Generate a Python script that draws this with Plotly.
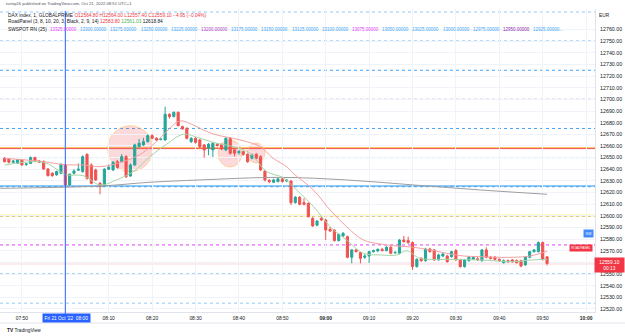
import plotly.graph_objects as go
import pandas as pd

# ---------------- data ----------------
bar_times = pd.date_range("2022-10-21 07:46", periods=126, freq="1min")

opens = [12649.4, 12648.8, 12646.0, 12645.1, 12648.0, 12644.2, 12645.0, 12650.0, 12647.1, 12646.8,
         12640.2, 12636.5, 12635.1, 12636.5, 12643.7, 12626.5, 12636.5, 12639.2, 12638.0, 12652.8,
         12643.7, 12639.4, 12627.9, 12625.6, 12640.0, 12639.4, 12646.5, 12646.5, 12650.8, 12634.2,
         12643.7, 12659.4, 12660.9, 12663.7, 12668.9, 12666.6, 12665.5, 12665.1, 12687.2, 12685.2,
         12688.9, 12676.6, 12675.2, 12663.7, 12666.6, 12665.1, 12660.9, 12658.0, 12656.6, 12661.4,
         12661.4, 12656.6, 12666.6, 12656.6, 12654.2, 12655.1, 12652.8, 12649.4, 12652.8, 12650.8,
         12638.5, 12630.5, 12628.8, 12629.4, 12631.7, 12630.0, 12629.9, 12611.3, 12615.9, 12611.3,
         12610.7, 12597.8, 12592.0, 12597.8, 12596.4, 12588.4, 12587.8, 12578.7, 12582.7, 12582.1,
         12564.4, 12570.7, 12568.4, 12564.4, 12565.5, 12569.2, 12569.8, 12571.2, 12570.1, 12573.0,
         12568.2, 12567.8, 12579.2, 12578.7, 12577.0, 12556.4, 12563.5, 12561.5, 12571.5, 12570.7,
         12562.1, 12565.5, 12565.5, 12564.9, 12570.1, 12562.1, 12556.4, 12561.5, 12562.6, 12563.2,
         12561.5, 12570.7, 12564.4, 12564.4, 12562.6, 12559.8, 12561.5, 12562.1, 12561.5, 12561.5,
         12557.8, 12564.4, 12569.2, 12569.2, 12577.0, 12564.8]
highs = [12650.5, 12649.5, 12648.0, 12648.8, 12648.8, 12645.5, 12651.0, 12650.8, 12648.0, 12647.5,
         12641.0, 12637.5, 12638.8, 12645.0, 12644.5, 12636.5, 12640.0, 12645.0, 12652.0, 12653.5,
         12645.0, 12640.5, 12629.0, 12641.0, 12644.0, 12647.0, 12648.0, 12653.0, 12652.0, 12645.0,
         12662.0, 12666.0, 12667.0, 12670.0, 12670.0, 12667.5, 12666.5, 12693.7, 12688.0, 12689.5,
         12689.5, 12677.5, 12676.0, 12667.5, 12667.5, 12666.0, 12661.5, 12662.5, 12663.0, 12662.5,
         12662.0, 12667.5, 12667.5, 12657.5, 12656.5, 12656.0, 12653.5, 12653.5, 12654.0, 12652.0,
         12639.0, 12631.5, 12632.0, 12633.0, 12632.5, 12631.5, 12630.5, 12617.0, 12617.0, 12615.0,
         12611.5, 12599.0, 12596.5, 12599.0, 12597.5, 12590.5, 12588.5, 12585.0, 12586.0, 12583.0,
         12571.5, 12571.5, 12569.0, 12567.0, 12570.0, 12571.0, 12572.0, 12572.5, 12574.0, 12574.0,
         12569.5, 12580.0, 12582.7, 12582.0, 12578.0, 12563.5, 12564.5, 12572.5, 12572.5, 12571.5,
         12567.5, 12568.0, 12566.5, 12570.0, 12571.5, 12563.0, 12563.0, 12565.5, 12565.5, 12564.5,
         12571.5, 12573.0, 12565.5, 12565.5, 12563.5, 12562.5, 12562.5, 12563.0, 12562.5, 12562.5,
         12565.5, 12570.0, 12571.5, 12578.0, 12578.0, 12564.8]
lows = [12645.8, 12645.0, 12645.5, 12644.5, 12643.0, 12642.8, 12644.5, 12646.5, 12645.5, 12639.5,
        12633.8, 12633.5, 12634.5, 12636.0, 12625.2, 12625.8, 12635.5, 12638.5, 12637.0, 12631.0,
        12627.0, 12630.0, 12618.5, 12624.8, 12639.5, 12638.5, 12640.5, 12646.0, 12632.5, 12633.5,
        12642.8, 12658.5, 12660.0, 12663.0, 12665.8, 12664.5, 12664.8, 12664.5, 12683.5, 12684.5,
        12676.8, 12674.0, 12665.5, 12662.5, 12662.0, 12658.0, 12650.0, 12652.0, 12650.5, 12659.5,
        12656.5, 12655.5, 12652.5, 12651.0, 12652.5, 12651.5, 12645.5, 12648.5, 12648.5, 12638.5,
        12629.5, 12628.0, 12628.0, 12628.8, 12628.5, 12628.8, 12609.3, 12610.5, 12609.0, 12609.0,
        12598.5, 12590.5, 12591.0, 12595.5, 12579.3, 12586.0, 12577.8, 12578.0, 12582.0, 12563.5,
        12559.2, 12568.5, 12559.2, 12563.0, 12559.5, 12568.5, 12569.0, 12569.5, 12569.5, 12567.0,
        12567.5, 12567.0, 12577.0, 12576.0, 12553.5, 12555.5, 12560.5, 12560.5, 12568.5, 12561.5,
        12561.5, 12564.5, 12559.8, 12564.0, 12561.5, 12555.5, 12555.5, 12560.5, 12562.0, 12561.5,
        12560.5, 12563.5, 12562.5, 12561.5, 12560.5, 12559.0, 12559.8, 12559.8, 12559.0, 12555.8,
        12557.0, 12563.5, 12568.5, 12568.5, 12561.5, 12557.4]
closes = [12646.5, 12646.0, 12647.0, 12648.0, 12643.7, 12644.6, 12650.0, 12647.1, 12646.0, 12640.2,
          12634.5, 12634.5, 12638.0, 12644.2, 12626.5, 12635.7, 12638.5, 12640.0, 12650.8, 12632.2,
          12627.9, 12630.8, 12625.1, 12640.0, 12641.7, 12646.0, 12641.4, 12650.8, 12633.6, 12643.7,
          12660.9, 12662.3, 12663.7, 12668.9, 12666.6, 12665.1, 12665.8, 12687.2, 12685.2, 12688.9,
          12677.5, 12674.6, 12666.6, 12666.6, 12663.1, 12659.4, 12656.6, 12661.4, 12662.3, 12660.3,
          12657.4, 12666.6, 12653.7, 12653.7, 12655.3, 12652.8, 12646.5, 12652.3, 12649.4, 12639.4,
          12630.8, 12629.4, 12630.8, 12631.7, 12629.4, 12630.6, 12611.3, 12615.9, 12609.9, 12609.9,
          12599.3, 12591.3, 12595.5, 12596.4, 12587.8, 12587.0, 12578.7, 12584.1, 12585.0, 12564.4,
          12570.7, 12569.2, 12563.5, 12565.5, 12569.2, 12570.1, 12571.2, 12570.1, 12573.0, 12567.8,
          12568.6, 12579.2, 12577.8, 12577.0, 12556.4, 12562.6, 12561.5, 12571.5, 12569.2, 12562.1,
          12566.4, 12567.2, 12560.6, 12569.2, 12562.1, 12556.4, 12562.1, 12564.4, 12564.4, 12562.1,
          12570.7, 12564.4, 12563.5, 12562.6, 12561.5, 12561.5, 12560.6, 12560.6, 12559.8, 12556.9,
          12564.4, 12569.2, 12570.7, 12577.0, 12562.6, 12559.1]

# moving averages read at sample bars (minutes after 08:00)
red_ma_min = [-14, -5, 0, 4, 8, 12, 17, 21, 23.3, 26.4, 29.5, 32.6, 35.6, 38.7, 41.8, 44.9, 47.9,
              51, 52.5, 57.2, 61, 64.8, 68.7, 72.5, 76.4, 80.2, 84, 87.9, 91.7, 95.6, 99.4, 103.2, 107.1, 111]
red_ma_val = [12649.4, 12646.5, 12643.8, 12643.7, 12642.2, 12645.1, 12652.2, 12663.7, 12672.3, 12681.4,
              12678.0, 12672.3, 12668.8, 12666.5, 12663.7, 12659.4, 12649.4, 12642.2, 12636.5, 12622.0,
              12605.0, 12590.7, 12579.2, 12575.8, 12574.1, 12573.0, 12570.7, 12567.8, 12565.5, 12564.9,
              12564.4, 12564.4, 12565.5, 12569.5]
green_ma_min = [-14, -5, -1.2, 0.3, 4.1, 8, 11.8, 15.7, 19.5, 23.3, 27.2, 31, 34.9, 38.7, 42.5, 46.4,
                50.2, 52.5, 57.2, 61, 64.8, 68.7, 72.5, 76.4, 78.7, 81.7, 87.9, 95.6, 103.2, 107.1, 111]
green_ma_val = [12643.6, 12646.0, 12638.0, 12635.1, 12634.5, 12626.5, 12630.8, 12638.0, 12650.8, 12661.4,
                12670.0, 12666.6, 12662.3, 12659.4, 12653.7, 12638.0, 12632.8, 12625.0, 12607.9, 12590.7,
                12579.2, 12567.8, 12566.4, 12566.4, 12570.0, 12563.5, 12562.6, 12562.1, 12560.6, 12562.0, 12562.6]
gray_ma_min = [-15, 8, 19.5, 31, 49.5, 64.8, 80.2, 95.6, 111]
gray_ma_val = [12623.6, 12625.6, 12628.8, 12630.8, 12633.0, 12630.8, 12626.5, 12622.2, 12618.5]

# horizontal round-number levels (SWSPOT RN)
rn_levels = [12775, 12750, 12725, 12700, 12675, 12650, 12625, 12600, 12575, 12550, 12525]
rn_colors = ["#90caf9", "#42a5f5", "#42a5f5", "#7b1fa2", "#42a5f5", "#42a5f5", "#42a5f5",
             "#42a5f5", "#e040fb", "#42a5f5", "#90caf9"]
orange_level = 12658.4
red_level = 12657.7
blue_level = 12625.6
yellow_level = 12600.3
last_price = 12559.1

price_ticks = list(range(12520, 12761, 10))
price_tick_text = ["" if v == 12560 else f"{v:.2f}" for v in price_ticks]
time_tick_vals = ["2022-10-21 07:50", "2022-10-21 08:00", "2022-10-21 08:10", "2022-10-21 08:20",
                  "2022-10-21 08:30", "2022-10-21 08:40", "2022-10-21 08:50", "2022-10-21 09:00",
                  "2022-10-21 09:10", "2022-10-21 09:20", "2022-10-21 09:30", "2022-10-21 09:40",
                  "2022-10-21 09:50", "2022-10-21 10:00"]
time_tick_text = ["07:50", "", "08:10", "08:20", "08:30", "08:40", "08:50", "<b>09:00</b>",
                  "09:10", "09:20", "09:30", "09:40", "09:50", "<b>10:00</b>"]

rn_legend_vals = ["13325.00000", "13300.00000", "13275.00000", "13250.00000", "13225.00000",
                  "13200.00000", "13175.00000", "13150.00000", "13125.00000", "13100.00000",
                  "13075.00000", "13050.00000", "13025.00000", "13000.00000", "12975.00000",
                  "12950.00000", "12925.00000..."]
rn_legend_cols = ["#e040fb", "#42a5f5", "#42a5f5", "#42a5f5", "#42a5f5", "#ab47bc", "#42a5f5",
                  "#42a5f5", "#42a5f5", "#42a5f5", "#e040fb", "#42a5f5", "#42a5f5", "#42a5f5",
                  "#42a5f5", "#8e24aa", "#42a5f5"]

# ---------------- figure ----------------
base = pd.Timestamp("2022-10-21 08:00")
def t(m):
    return base + pd.to_timedelta(m, unit="min")

W, H = 625, 336
PL, PR, PT, PB = 0, 30, 9, 24
PW, PH = W - PL - PR, H - PT - PB
def px(x):
    return (x - PL) / PW
def py(y):
    return (H - PB - y) / PH

FONT = "Liberation Sans, Arial, sans-serif"
fig = go.Figure()

fig.add_trace(go.Scatter(x=[t(m) for m in gray_ma_min], y=gray_ma_val, mode="lines",
                         line=dict(color="#9e9e9e", width=1, shape="spline"), hoverinfo="skip"))
fig.add_trace(go.Scatter(x=[t(m) for m in red_ma_min], y=red_ma_val, mode="lines",
                         line=dict(color="#f4a0a0", width=1, shape="spline"), hoverinfo="skip"))
fig.add_trace(go.Scatter(x=[t(m) for m in green_ma_min], y=green_ma_val, mode="lines",
                         line=dict(color="#a5d6a7", width=1, shape="spline"), hoverinfo="skip"))

fig.add_trace(go.Candlestick(
    x=bar_times, open=opens, high=highs, low=lows, close=closes,
    increasing=dict(line=dict(color="#26a69a", width=1), fillcolor="#26a69a"),
    decreasing=dict(line=dict(color="#ef5350", width=1), fillcolor="#ef5350"),
    whiskerwidth=0, hoverinfo="skip"))

shapes = []
# circles
circles = [(9.77, 20.14, 12637.9, 12677.4), (35.2, 40.7, 12641.9, 12665.1), (41.9, 46.0, 12645.4, 12662.5)]
for a, b, c, d in circles:
    shapes.append(dict(type="circle", xref="x", yref="y", x0=t(a), x1=t(b), y0=c, y1=d,
                       fillcolor="rgba(242,80,90,0.22)", line=dict(color="rgba(255,200,120,0.7)", width=1),
                       layer="below"))
# user drawn lines
shapes.append(dict(type="line", xref="paper", yref="y", x0=0, x1=1, y0=yellow_level, y1=yellow_level,
                   line=dict(color="rgba(255,235,59,0.6)", width=2), layer="below"))
shapes.append(dict(type="line", xref="paper", yref="y", x0=0, x1=1, y0=blue_level, y1=blue_level,
                   line=dict(color="#2196f3", width=1.2), layer="below"))
shapes.append(dict(type="line", xref="paper", yref="y", x0=0, x1=1, y0=orange_level, y1=orange_level,
                   line=dict(color="#ffa726", width=1), layer="below"))
shapes.append(dict(type="line", xref="paper", yref="y", x0=0, x1=1, y0=red_level, y1=red_level,
                   line=dict(color="#ef5350", width=1), layer="below"))
for lv, col in zip(rn_levels, rn_colors):
    shapes.append(dict(type="line", xref="paper", yref="y", x0=0, x1=1, y0=lv, y1=lv,
                       line=dict(color=col, width=1, dash="dot"), layer="below"))
shapes.append(dict(type="line", xref="paper", yref="y", x0=0, x1=1, y0=yellow_level - 0.3, y1=yellow_level - 0.3,
                   line=dict(color="#ff9800", width=1, dash="dot"), layer="below"))
# current price band
shapes.append(dict(type="line", xref="paper", yref="y", x0=0, x1=1, y0=last_price, y1=last_price,
                   line=dict(color="rgba(242,54,69,0.10)", width=3), layer="below"))
# crosshair
shapes.append(dict(type="line", xref="x", yref="paper", x0=base, x1=base, y0=-0.01, y1=py(11),
                   line=dict(color="#2962ff", width=1)))
# bottom border of time scale
shapes.append(dict(type="line", xref="paper", yref="paper", x0=0, x1=W / PW, y0=py(323), y1=py(323),
                   line=dict(color="#e0e3eb", width=1)))

ann = []
def text(x, y, s, size=4.6, color="#131722", xanchor="left", **kw):
    ann.append(dict(x=px(x), y=py(y), xref="paper", yref="paper", text=s, showarrow=False,
                    xanchor=xanchor, yanchor="middle", font=dict(size=size, color=color, family=FONT), **kw))

text(4, 4, "turnip16 published on TradingView.com, Oct 21, 2022 08:51 UTC+1", size=4.2, color="#50535e")
text(6, 15, "DAX index, 1, GLOBALPRIME <span style='color:#f23645'>O12564.80 H12564.00 L12557.40 "
            "C12559.10 −4.95 (−0.04%)</span>", size=4.8)
text(6, 22, "RoadPanel (3, 8, 10, 20, 3, Black, 2, 9, 14) <span style='color:#f23645'>12583.80</span> "
            "<span style='color:#4caf50'>12561.03</span> 12618.84", size=4.8)
text(6, 29, "SWSPOT RN (25)", size=4.8)
for i, (v, c) in enumerate(zip(rn_legend_vals, rn_legend_cols)):
    text(48 + 30.2 * i, 29, v, color=c, size=4.5)

text(597, 15, "EUR", size=4.8)
# crosshair time label
text(66, 317.5, "Fri 21 Oct '22  08:00", size=4.8, color="white", xanchor="center",
     bgcolor="#2962ff", borderpad=1.5)
# price labels
text(609, 265, "12559.10<br>00:13", size=4.8, color="white", xanchor="center",
     bgcolor="#f23645", borderpad=1.5, width=26)
text(588, 233.5, "SW", size=3.6, color="white", xanchor="center", bgcolor="#448aff", borderpad=1.5)
text(581, 248, "ROADPANEL", size=3.2, color="white", xanchor="center", bgcolor="#f23645", borderpad=1.2)
text(5, 330, "<b>TV</b> TradingView", size=4.8, color="#131722")

fig.update_layout(
    width=W, height=H, margin=dict(l=PL, r=PR, t=PT, b=PB),
    paper_bgcolor="white", plot_bgcolor="white", showlegend=False,
    shapes=shapes, annotations=ann, font=dict(family=FONT),
    xaxis=dict(type="date", range=["2022-10-21 07:44:57", "2022-10-21 10:02:03"],
               rangeslider=dict(visible=False), tickvals=time_tick_vals, ticktext=time_tick_text,
               showgrid=True, gridcolor="#f0f3fa", gridwidth=1, zeroline=False,
               showline=True, linecolor="#e0e3eb", ticks="", ticklabelstandoff=1,
               tickfont=dict(size=4.9, color="#131722", family=FONT)),
    yaxis=dict(side="right", range=[12517.4, 12777.6], tickvals=price_ticks, ticktext=price_tick_text,
               showgrid=True, gridcolor="#f0f3fa", gridwidth=1, zeroline=False,
               showline=True, linecolor="#e0e3eb", ticks="", ticklabelstandoff=3,
               tickfont=dict(size=5.3, color="#131722", family=FONT)),
)

fig.write_html("out.html")
